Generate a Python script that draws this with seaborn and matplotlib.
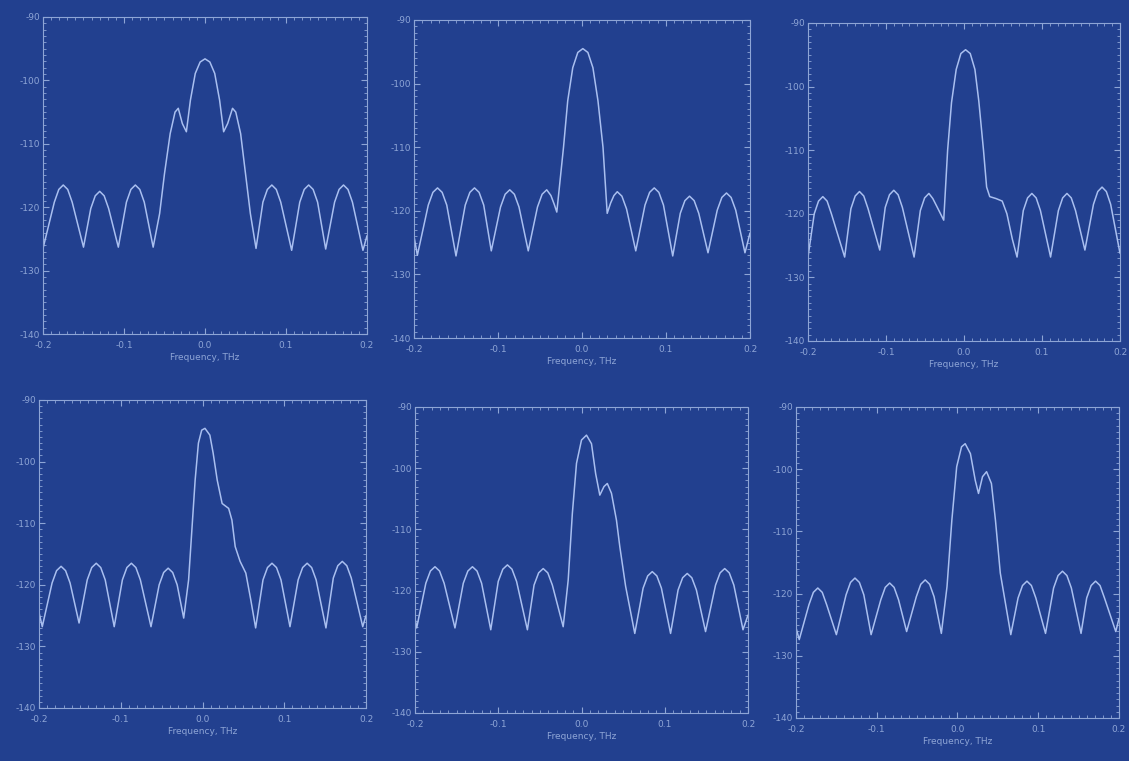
import matplotlib
matplotlib.use("Agg")
import matplotlib.pyplot as plt
from matplotlib.ticker import MultipleLocator
import seaborn as sns

# values (frequency in THz, level in dB)
freq_a = [-0.200, -0.186, -0.1805, -0.175, -0.1695, -0.164, -0.150, -0.141, -0.1355, -0.130, -0.1245, -0.119,
          -0.107, -0.097, -0.0915, -0.086, -0.0805, -0.075, -0.064, -0.056, -0.050, -0.043, -0.037, -0.033,
          -0.028, -0.023, -0.018, -0.012, -0.006, 0.000, 0.006, 0.012, 0.018, 0.023, 0.028, 0.034, 0.038,
          0.044, 0.050, 0.056, 0.063, 0.0715, 0.077, 0.0825, 0.088, 0.0935, 0.107, 0.117, 0.1225, 0.128,
          0.1335, 0.139, 0.149, 0.160, 0.1655, 0.171, 0.1765, 0.182, 0.195, 0.200]
level_a = [-126.5, -119.2, -117.2, -116.5, -117.2, -119.2, -126.3, -120.2, -118.2, -117.5, -118.2, -120.2,
           -126.3, -119.2, -117.2, -116.5, -117.2, -119.2, -126.3, -121.0, -114.7, -108.4, -105.0, -104.4,
           -106.8, -108.1, -103.1, -98.9, -97.1, -96.6, -97.1, -98.9, -103.1, -108.1, -106.8, -104.4, -105.0,
           -108.4, -114.7, -121.0, -126.5, -119.2, -117.2, -116.5, -117.2, -119.2, -126.8, -119.2, -117.2, -116.5,
           -117.2, -119.2, -126.6, -119.2, -117.2, -116.5, -117.2, -119.2, -126.8, -124.5]

freq_b = [-0.200, -0.196, -0.183, -0.1775, -0.172, -0.1665, -0.161, -0.150, -0.139, -0.1335, -0.128, -0.1225,
          -0.117, -0.108, -0.097, -0.0915, -0.086, -0.0805, -0.075, -0.064, -0.053, -0.0475, -0.042, -0.037,
          -0.033, -0.030, -0.022, -0.017, -0.011, -0.005, 0.001, 0.007, 0.013, 0.019, 0.025, 0.030, 0.034,
          0.038, 0.042, 0.0475, 0.053, 0.064, 0.075, 0.0805, 0.086, 0.0915, 0.097, 0.108, 0.117, 0.1225,
          0.128, 0.1335, 0.139, 0.150, 0.161, 0.1665, 0.172, 0.1775, 0.183, 0.194, 0.200]
level_b = [-124.0, -127.0, -119.1, -117.1, -116.4, -117.1, -119.1, -127.1, -119.1, -117.1, -116.4, -117.1,
           -119.1, -126.3, -119.4, -117.4, -116.7, -117.4, -119.4, -126.3, -119.4, -117.4, -116.7, -117.6,
           -119.0, -120.2, -110.0, -102.7, -97.5, -95.1, -94.5, -95.1, -97.5, -102.7, -110.0, -120.4, -118.8,
           -117.6, -117.0, -117.7, -119.7, -126.3, -119.1, -117.1, -116.4, -117.1, -119.1, -127.1, -120.4, -118.4,
           -117.7, -118.4, -120.4, -126.6, -119.9, -117.9, -117.2, -117.9, -119.9, -126.6, -123.5]

freq_c = [-0.200, -0.192, -0.1865, -0.181, -0.1755, -0.170, -0.153, -0.145, -0.1395, -0.134, -0.1285, -0.123,
          -0.108, -0.101, -0.0955, -0.090, -0.0845, -0.079, -0.064, -0.056, -0.0505, -0.045, -0.040, -0.035,
          -0.026, -0.021, -0.016, -0.010, -0.004, 0.002, 0.008, 0.014, 0.019, 0.025, 0.029, 0.033, 0.041,
          0.049, 0.055, 0.062, 0.068, 0.076, 0.0815, 0.087, 0.0925, 0.098, 0.111, 0.121, 0.1265, 0.132,
          0.1375, 0.143, 0.155, 0.166, 0.1715, 0.177, 0.1825, 0.188, 0.200]
level_c = [-126.8, -120.0, -118.0, -117.3, -118.0, -120.0, -126.8, -119.2, -117.2, -116.5, -117.2, -119.2,
           -125.7, -119.0, -117.0, -116.3, -117.0, -119.0, -126.8, -119.5, -117.5, -116.8, -117.6, -118.8,
           -121.0, -110.0, -102.5, -97.3, -94.8, -94.2, -94.8, -97.3, -102.3, -110.0, -115.8, -117.3, -117.6,
           -118.0, -120.0, -124.0, -126.8, -119.5, -117.5, -116.8, -117.5, -119.5, -126.8, -119.5, -117.5, -116.8,
           -117.5, -119.5, -125.7, -118.5, -116.5, -115.8, -116.5, -118.5, -126.2]

freq_d = [-0.200, -0.196, -0.184, -0.1785, -0.173, -0.1675, -0.162, -0.151, -0.141, -0.1355, -0.130, -0.1245,
          -0.119, -0.108, -0.098, -0.0925, -0.087, -0.0815, -0.076, -0.063, -0.053, -0.0475, -0.042, -0.0365,
          -0.031, -0.023, -0.017, -0.013, -0.009, -0.005, -0.001, 0.003, 0.009, 0.013, 0.018, 0.024, 0.032,
          0.036, 0.040, 0.046, 0.053, 0.059, 0.065, 0.074, 0.0795, 0.085, 0.0905, 0.096, 0.107, 0.117,
          0.1225, 0.128, 0.1335, 0.139, 0.151, 0.160, 0.1655, 0.171, 0.1765, 0.182, 0.196, 0.200]
level_d = [-124.5, -126.8, -119.7, -117.7, -117.0, -117.7, -119.7, -126.2, -119.2, -117.2, -116.5, -117.2,
           -119.2, -126.8, -119.2, -117.2, -116.5, -117.2, -119.2, -126.8, -120.0, -118.0, -117.3, -118.0,
           -120.0, -125.4, -119.2, -111.1, -103.0, -97.0, -94.9, -94.6, -95.7, -98.6, -103.0, -106.8, -107.6,
           -109.5, -113.8, -116.2, -118.1, -122.4, -127.0, -119.2, -117.2, -116.5, -117.2, -119.2, -126.8, -119.2,
           -117.2, -116.5, -117.2, -119.2, -127.0, -118.9, -116.9, -116.2, -116.9, -118.9, -126.8, -125.0]

freq_e = [-0.200, -0.198, -0.187, -0.1815, -0.176, -0.1705, -0.165, -0.152, -0.142, -0.1365, -0.131, -0.1255,
          -0.120, -0.109, -0.100, -0.0945, -0.089, -0.0835, -0.078, -0.065, -0.057, -0.0515, -0.046, -0.0405,
          -0.035, -0.022, -0.016, -0.011, -0.006, 0.000, 0.006, 0.012, 0.017, 0.022, 0.027, 0.031, 0.036,
          0.042, 0.046, 0.053, 0.064, 0.074, 0.0795, 0.085, 0.0905, 0.096, 0.107, 0.116, 0.1215, 0.127,
          0.1325, 0.138, 0.149, 0.161, 0.1665, 0.172, 0.1775, 0.183, 0.194, 0.200]
level_e = [-124.5, -126.1, -118.8, -116.8, -116.1, -116.8, -118.8, -126.1, -118.8, -116.8, -116.1, -116.8,
           -118.8, -126.4, -118.5, -116.5, -115.8, -116.5, -118.5, -126.4, -119.1, -117.1, -116.4, -117.1,
           -119.1, -125.9, -118.3, -107.4, -99.2, -95.4, -94.6, -96.0, -100.9, -104.4, -103.0, -102.5, -104.1,
           -108.5, -112.8, -119.3, -127.0, -119.6, -117.6, -116.9, -117.6, -119.6, -127.0, -119.9, -117.9, -117.2,
           -117.9, -119.9, -126.7, -119.1, -117.1, -116.4, -117.1, -119.1, -126.4, -124.0]

freq_f = [-0.200, -0.196, -0.184, -0.1785, -0.173, -0.1675, -0.162, -0.150, -0.138, -0.1325, -0.127, -0.1215,
          -0.116, -0.107, -0.095, -0.0895, -0.084, -0.0785, -0.073, -0.063, -0.051, -0.0455, -0.040, -0.0345,
          -0.029, -0.020, -0.013, -0.007, -0.001, 0.005, 0.0095, 0.016, 0.022, 0.026, 0.031, 0.036, 0.042,
          0.047, 0.053, 0.066, 0.075, 0.0805, 0.086, 0.0915, 0.097, 0.109, 0.119, 0.1245, 0.130, 0.1355,
          0.141, 0.153, 0.160, 0.1655, 0.171, 0.1765, 0.182, 0.196, 0.200]
level_f = [-125.5, -127.4, -121.8, -119.8, -119.1, -119.8, -121.8, -126.6, -120.2, -118.2, -117.5, -118.2,
           -120.2, -126.6, -121.0, -119.0, -118.3, -119.0, -121.0, -126.1, -120.5, -118.5, -117.8, -118.5,
           -120.5, -126.4, -118.9, -108.2, -99.6, -96.4, -95.9, -97.5, -101.8, -103.9, -101.2, -100.4, -102.3,
           -108.2, -116.7, -126.6, -120.7, -118.7, -118.0, -118.7, -120.7, -126.4, -119.1, -117.1, -116.4, -117.1,
           -119.1, -126.4, -120.7, -118.7, -118.0, -118.7, -120.7, -126.1, -124.0]

x_ticks = [-0.2, -0.1, 0.0, 0.1, 0.2]
x_labels = ["-0.2", "-0.1", "0.0", "0.1", "0.2"]
y_ticks = [-90, -100, -110, -120, -130, -140]
y_labels = ["-90", "-100", "-110", "-120", "-130", "-140"]
x_title = "Frequency, THz"

# panel boxes in figure pixels: left, top, right, bottom
W, H = 1129, 761
boxes = [(43, 17, 367, 334), (414, 20, 750, 338), (808, 23, 1120, 341),
         (39, 400, 366, 708), (415, 407, 748, 713), (796, 407, 1119, 718)]

BG = "#22408f"
FG = "#a9bff0"
TXT = "#8ea5d6"

sns.set_theme(style="ticks")
plt.rcParams["font.family"] = ["DejaVu Sans"]

fig = plt.figure(figsize=(W / 100, H / 100), dpi=100, facecolor=BG)

series = [(freq_a, level_a), (freq_b, level_b), (freq_c, level_c),
          (freq_d, level_d), (freq_e, level_e), (freq_f, level_f)]

for (fx, ly), (l, t, r, b) in zip(series, boxes):
    ax = fig.add_axes([l / W, (H - b) / H, (r - l) / W, (b - t) / H])
    ax.set_facecolor(BG)
    sns.lineplot(x=fx, y=ly, ax=ax, color=FG, linewidth=1.1, sort=False, estimator=None)
    ax.set_xlim(-0.2, 0.2)
    ax.set_ylim(-140, -90)
    ax.set_xticks(x_ticks)
    ax.set_xticklabels(x_labels)
    ax.set_yticks(y_ticks)
    ax.set_yticklabels(y_labels)
    ax.xaxis.set_minor_locator(MultipleLocator(0.01))
    ax.yaxis.set_minor_locator(MultipleLocator(1))
    ax.tick_params(which="both", direction="in", top=True, right=True, colors=TXT,
                   labelsize=6.5)
    ax.tick_params(axis="x", pad=5)
    ax.tick_params(axis="y", pad=2)
    ax.tick_params(which="major", length=4, width=0.8)
    ax.tick_params(which="minor", length=2, width=0.6)
    for s in ax.spines.values():
        s.set_color(TXT)
        s.set_linewidth(0.8)
        s.set_linestyle((0, (2, 1)))
    ax.set_xlabel(x_title, color=TXT, fontsize=6.5, labelpad=2)
    ax.set_ylabel("")

fig.savefig("out.png", dpi=100, facecolor=BG)
